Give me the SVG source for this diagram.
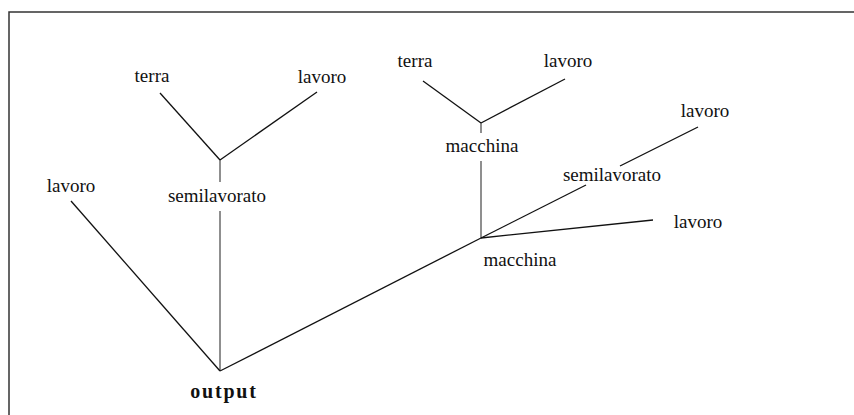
<svg xmlns="http://www.w3.org/2000/svg" width="854" height="415" viewBox="0 0 854 415">
<style>
text{font-family:"Liberation Serif","Times New Roman",serif;font-size:19px;fill:#111;text-anchor:middle}
.b{font-weight:bold;font-size:20px;letter-spacing:1.8px}
.c line{stroke:#111;stroke-width:1.3;fill:none}
.c line.v{stroke:#333;stroke-width:1.1}
.frame{stroke:#333;stroke-width:1.5;fill:none}
</style>
<rect width="854" height="415" fill="#fff"/>
<path class="frame" d="M9,415 V12 H854"/>
<g class="c" id="connectors">
<line x1="160" y1="93" x2="220" y2="160"/>
<line x1="317" y1="92" x2="220" y2="160"/>
<line class="v" x1="220" y1="160" x2="220" y2="182"/>
<line class="v" x1="220" y1="211" x2="220" y2="371"/>
<line x1="71" y1="201" x2="220" y2="371"/>
<line x1="220" y1="371" x2="481" y2="238"/>
<line x1="423" y1="81" x2="481" y2="123"/>
<line x1="565" y1="79" x2="481" y2="123"/>
<line class="v" x1="481" y1="123" x2="481" y2="133"/>
<line class="v" x1="481" y1="161" x2="481" y2="238"/>
<line x1="481" y1="238" x2="586" y2="185"/>
<line x1="620" y1="166" x2="698" y2="127"/>
<line x1="481" y1="238" x2="653" y2="220"/>
</g>
<g id="terra1"><text x="152" y="82">terra</text></g>
<g id="lavoro1"><text x="322" y="83">lavoro</text></g>
<g id="semilavorato1"><text x="217" y="202">semilavorato</text></g>
<g id="lavoro2"><text x="71" y="192">lavoro</text></g>
<g id="output"><text class="b" x="224" y="398">output</text></g>
<g id="terra2"><text x="415" y="67">terra</text></g>
<g id="lavoro3"><text x="568" y="67">lavoro</text></g>
<g id="macchina1"><text x="482" y="152">macchina</text></g>
<g id="semilavorato2"><text x="612" y="181">semilavorato</text></g>
<g id="lavoro4"><text x="705" y="117">lavoro</text></g>
<g id="lavoro5"><text x="698" y="228">lavoro</text></g>
<g id="macchina2"><text x="520" y="266">macchina</text></g>
</svg>
